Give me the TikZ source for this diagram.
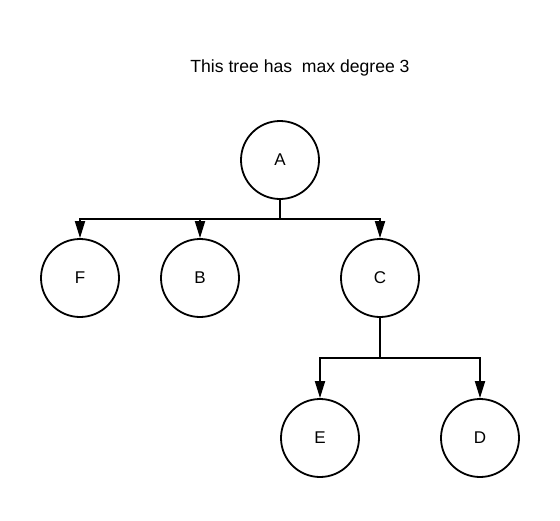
\documentclass[tikz,border=0pt]{standalone}
\usepackage{fontspec}
\setmainfont{Liberation Sans}
\usetikzlibrary{arrows.meta}

\begin{document}
\begin{tikzpicture}[x=1pt,y=-1pt,
                every path/.style={line width=1.8pt,>={Triangle[length=17pt,width=10pt]}},
                vertex/.style={draw,circle,minimum size=78pt,inner sep=0pt,font=\fontsize{17}{20}\selectfont}]
  \useasboundingbox (0,0) rectangle (560,520);
  \node[font=\fontsize{17.6}{21}\selectfont] (title) at (300,68) {This tree has\ \ max degree 3};
  \node[vertex] (a) at (280,160) {A};
  \node[vertex] (f) at (80,278)  {F};
  \node[vertex] (b) at (200,278) {B};
  \node[vertex] (c) at (380,278) {C};
  \node[vertex] (e) at (320,438) {E};
  \node[vertex] (d) at (480,438) {D};
  \coordinate (asplit) at (280,219);
  \coordinate (csplit) at (380,358);
  \draw (a) -- (asplit);
  \draw[->] (asplit) -| (f);
  \draw[->] (asplit) -| (b);
  \draw[->] (asplit) -| (c);
  \draw (c) -- (csplit);
  \draw[->] (csplit) -| (e);
  \draw[->] (csplit) -| (d);
\end{tikzpicture}
\end{document}
